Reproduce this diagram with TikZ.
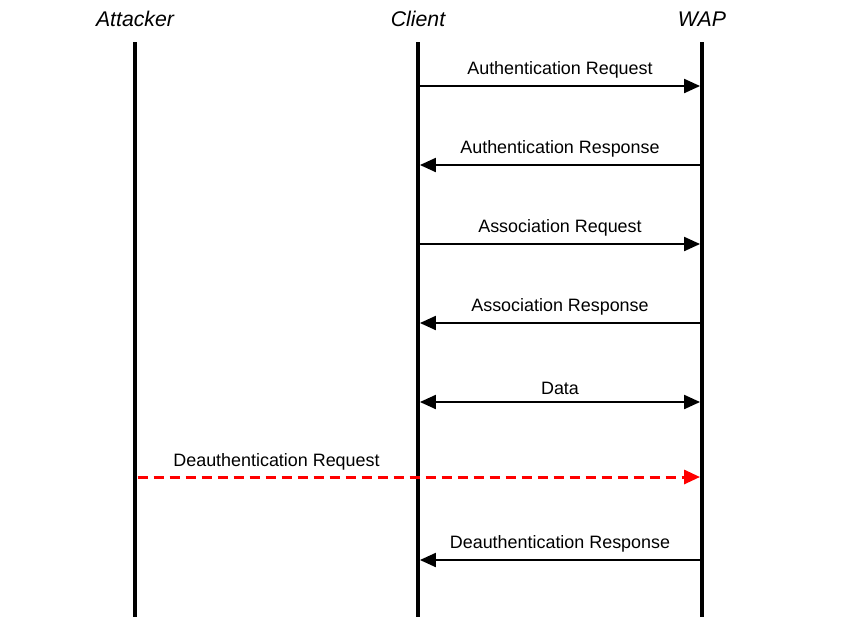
\documentclass[tikz,border=0pt]{standalone}
\usepackage{xcolor}
\usepackage{fontspec}
\setmainfont{Liberation Sans}
\usepackage{tikz}
\usetikzlibrary{arrows.meta, positioning, calc}
\definecolor{mydark}{RGB}{0,0,0}
\definecolor{myred}{RGB}{255,0,0}
\tikzset{
  actor/.style={font=\fontsize{12.1pt}{14pt}\selectfont\itshape, inner sep=0pt},
  lifeline/.style={line width=2.3pt, color=mydark},
  msglabel/.style={font=\fontsize{10.2pt}{12pt}\selectfont, inner sep=0pt, above=0.13cm},
  arrow/.style={-{Triangle[length=0.32cm,width=0.28cm]}, line width=1.2pt, color=mydark,
    shorten >=1.1pt, shorten <=1.1pt},
  dblarrow/.style={{Triangle[length=0.32cm,width=0.28cm]}-{Triangle[length=0.32cm,width=0.28cm]},
    line width=1.2pt, color=mydark, shorten >=1.1pt, shorten <=1.1pt},
  redarrow/.style={-{Triangle[length=0.32cm,width=0.28cm]}, line width=1.7pt, color=myred,
    dash pattern=on 0.2cm off 0.12cm, shorten >=1.1pt, shorten <=1.5pt}
}

\begin{document}
\begin{tikzpicture}[x=0.02cm, y=-0.02cm]
  \useasboundingbox (0,0) rectangle (850,627);
  % actors
  \node[actor] (att) at (135,19) {Attacker};
  \node[actor] (cli) at (418,19) {Client};
  \node[actor] (wap) at (702,19) {WAP};
  % lifelines
  \coordinate (att-t) at (135,42);  \coordinate (att-b) at (135,617);
  \coordinate (cli-t) at (418,42);  \coordinate (cli-b) at (418,617);
  \coordinate (wap-t) at (702,42);  \coordinate (wap-b) at (702,617);
  \draw[lifeline] (att-t) -- (att-b);
  \draw[lifeline] (cli-t) -- (cli-b);
  \draw[lifeline] (wap-t) -- (wap-b);
  % message points
  \foreach \i/\y in {1/86, 2/165, 3/244, 4/323, 5/402, 6/477, 7/560} {
    \coordinate (att-\i) at (135,\y);
    \coordinate (cli-\i) at (418,\y);
    \coordinate (wap-\i) at (702,\y);
  }
  % messages
  \draw[arrow]    (cli-1) -- node[msglabel]{Authentication Request}   (wap-1);
  \draw[arrow]    (wap-2) -- node[msglabel]{Authentication Response}  (cli-2);
  \draw[arrow]    (cli-3) -- node[msglabel]{Association Request}      (wap-3);
  \draw[arrow]    (wap-4) -- node[msglabel]{Association Response}     (cli-4);
  \draw[dblarrow] (cli-5) -- node[msglabel]{Data}                     (wap-5);
  \draw[redarrow] (att-6) -- (wap-6);
  \node[msglabel, color=mydark] (deauth-req) at ($(att-6)!0.5!(cli-6)$) {Deauthentication Request};
  \draw[arrow]    (wap-7) -- node[msglabel]{Deauthentication Response} (cli-7);
\end{tikzpicture}
\end{document}
